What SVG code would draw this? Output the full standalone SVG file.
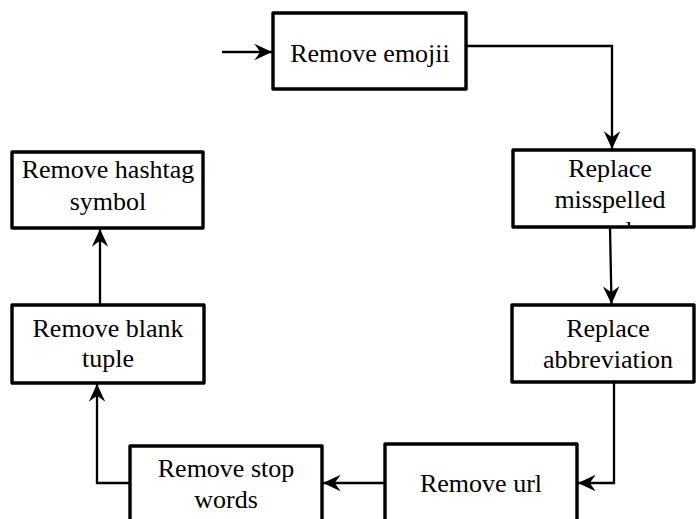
<svg xmlns="http://www.w3.org/2000/svg" width="696" height="519" viewBox="0 0 696 519">
<style>
.box{fill:#fff;stroke:#000;stroke-width:3.4;stroke-linejoin:round}
.t{font-family:"Liberation Serif","Times New Roman",serif;font-size:26px;fill:#000;text-anchor:middle}
.c{fill:none;stroke:#000;stroke-width:2.3;marker-end:url(#ah)}
</style>
<defs>
<marker id="ah" markerUnits="userSpaceOnUse" markerWidth="20" markerHeight="20" viewBox="-16 -8 17 16" refX="0" refY="0" orient="auto">
<path d="M0,0 L-15,-7 L-10,0 L-15,7 Z" fill="#000"/>
</marker>
<clipPath id="clipM"><rect x="515" y="152" width="178" height="73.5"/></clipPath>
</defs>
<g id="connectors">
<path class="c" d="M222,52 L272,52"/>
<path class="c" d="M466,46 L612,46 L612,149"/>
<path class="c" d="M610,227 L611.5,304"/>
<path class="c" d="M614,383 L614,483 L578,483"/>
<path class="c" d="M385,483 L323,483"/>
<path class="c" d="M130,483 L97,483 L97,384"/>
<path class="c" d="M100,305 L100,229"/>
</g>
<g id="n-emojii">
<rect class="box" x="273" y="13" width="193" height="76"/>
<text class="t" x="370" y="62">Remove emojii</text>
</g>
<g id="n-misspelled">
<rect class="box" x="513" y="150" width="181" height="77"/>
<text class="t" x="610" y="177">Replace</text>
<text class="t" x="610" y="208">misspelled</text>
<text class="t" x="610" y="239" clip-path="url(#clipM)">words</text>
</g>
<g id="n-abbreviation">
<rect class="box" x="512" y="305" width="182" height="77"/>
<text class="t" x="608" y="337">Replace</text>
<text class="t" x="608" y="368">abbreviation</text>
</g>
<g id="n-url">
<rect class="box" x="385" y="444" width="192" height="90"/>
<text class="t" x="481" y="492">Remove url</text>
</g>
<g id="n-stopwords">
<rect class="box" x="130" y="446" width="192" height="90"/>
<text class="t" x="226" y="477">Remove stop</text>
<text class="t" x="226" y="508">words</text>
</g>
<g id="n-blank">
<rect class="box" x="12" y="305" width="192" height="78"/>
<text class="t" x="108" y="337">Remove blank</text>
<text class="t" x="108" y="367">tuple</text>
</g>
<g id="n-hashtag">
<rect class="box" x="12" y="152" width="191" height="76"/>
<text class="t" x="108" y="178">Remove hashtag</text>
<text class="t" x="108" y="210">symbol</text>
</g>
</svg>
